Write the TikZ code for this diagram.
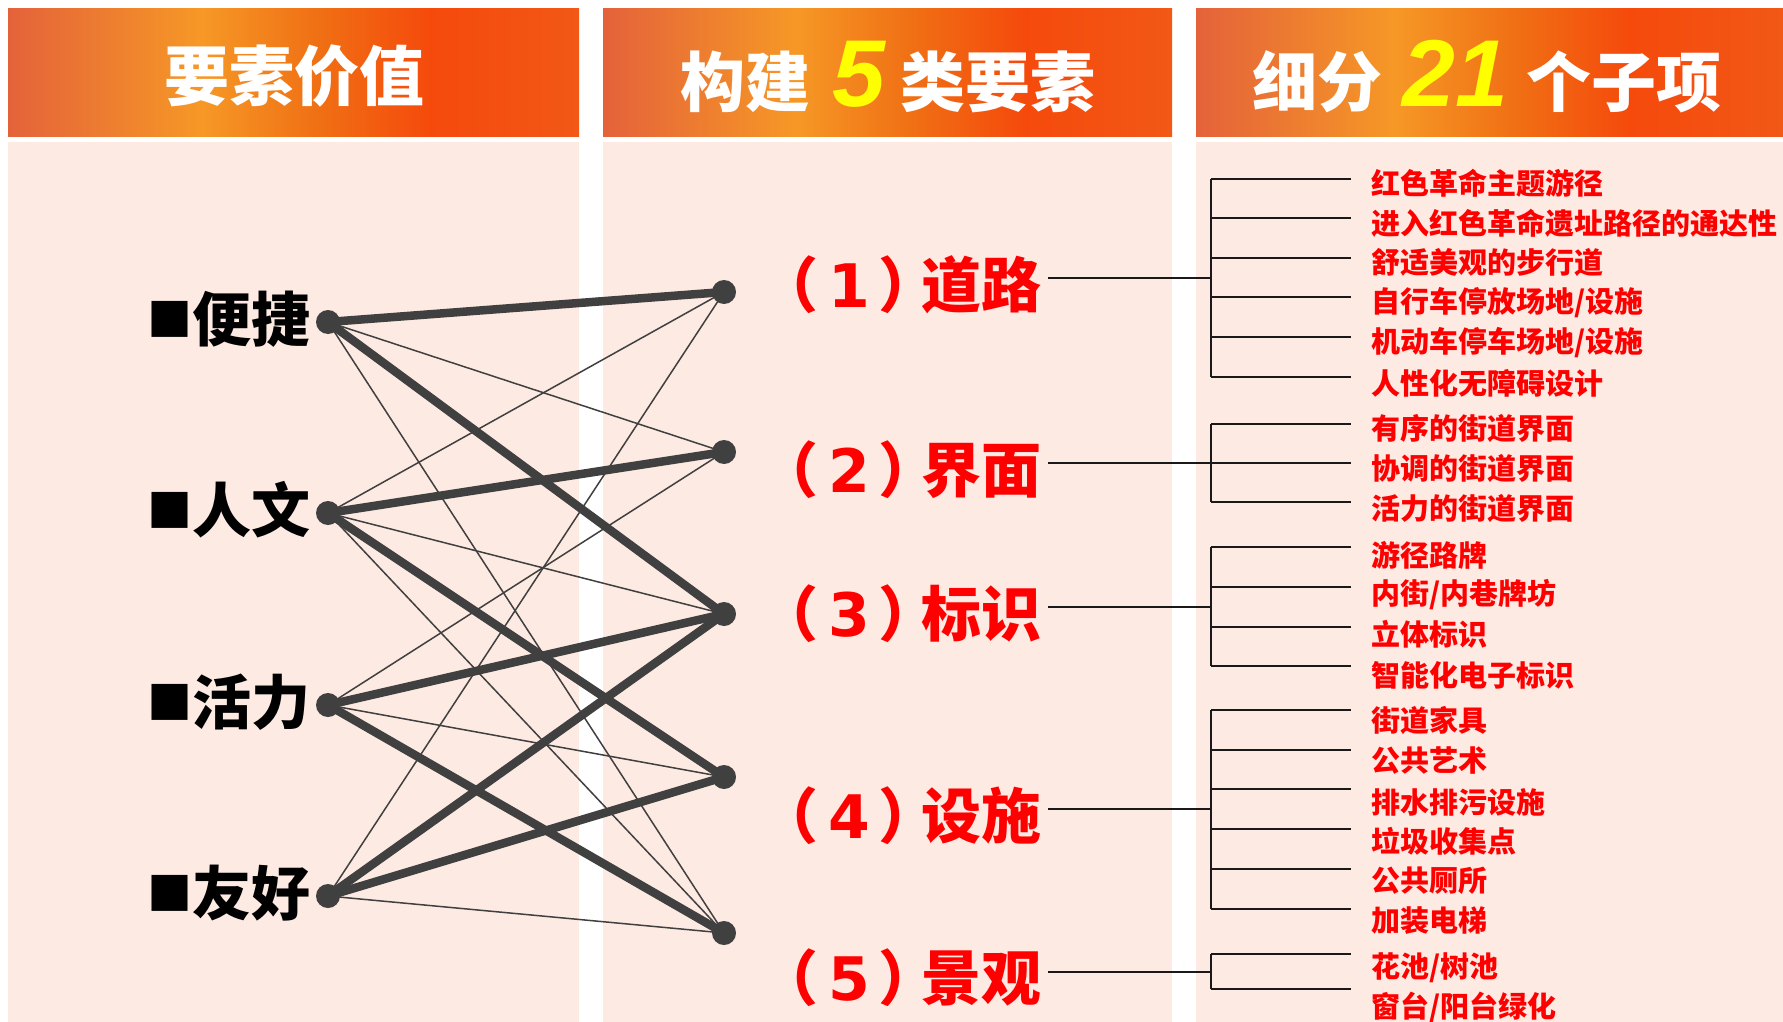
\documentclass[tikz,border=0pt]{standalone}
\usepackage{fontspec}
\setmainfont{Noto Sans CJK SC}
\newfontfamily\latinbi{Liberation Sans}
\newfontfamily\dejavu{DejaVu Sans}
\definecolor{pinkbg}{RGB}{253,234,227}
\definecolor{hcA}{RGB}{228,98,58}
\definecolor{hcB}{RGB}{246,152,38}
\definecolor{hcC}{RGB}{240,112,20}
\definecolor{hcD}{RGB}{245,74,12}
\definecolor{hcE}{RGB}{242,88,22}
\definecolor{edgegray}{RGB}{64,64,64}
\definecolor{tred}{RGB}{255,0,0}
\definecolor{yel}{RGB}{255,255,0}
\pgfdeclarehorizontalshading{hdrshade}{100bp}{color(0bp)=(hcA); color(25bp)=(hcA); color(42bp)=(hcB); color(52bp)=(hcC); color(62bp)=(hcD); color(75bp)=(hcE); color(100bp)=(hcE)}
\tikzset{
  hdrtxt/.style={inner sep=0pt, text=white, font=\bfseries\fontsize{65}{65}\selectfont},
  lefttxt/.style={inner sep=0pt, text=black, font=\bfseries\fontsize{59}{59}\selectfont},
  midtxt/.style={inner sep=0pt, text=tred, font=\bfseries\fontsize{60}{60}\selectfont},
  itemtxt/.style={inner sep=0pt, text=tred, font=\bfseries\fontsize{29}{29}\selectfont, anchor=west},
  dotnode/.style={circle, fill=edgegray, inner sep=0pt, minimum size=24pt},
  thickedge/.style={draw=edgegray, line width=8.5pt},
  thinedge/.style={draw=edgegray, line width=1.5pt},
  branch/.style={draw=black!90, line width=2pt},
  conn/.style={draw=black!90, line width=1.6pt},
}
\newcommand{\ynum}[1]{{\latinbi\bfseries\itshape\fontsize{95}{95}\selectfont\color{yel}#1}}
\newcommand{\dnum}[1]{{\dejavu\bfseries #1}}
\newcommand{\sqbul}{\raisebox{5pt}{\fontsize{45}{45}\selectfont ■}}
\begin{document}
\begin{tikzpicture}[x=1pt,y=-1pt]
\useasboundingbox (0,0) rectangle (1783,1022);
\fill[white] (0,0) rectangle (1783,1022);
% panels
\fill[pinkbg] (8,142) rectangle (579,1022);
\fill[pinkbg] (603,142) rectangle (1172,1022);
\fill[pinkbg] (1196,142) rectangle (1783,1022);
\shade[shading=hdrshade] (8,9) rectangle (579,137);
\shade[shading=hdrshade] (603,9) rectangle (1172,137);
\shade[shading=hdrshade] (1196,9) rectangle (1783,137);
% headers
\node[hdrtxt, anchor=base] (h1) at (294,101) {要素价值};
\node[hdrtxt, anchor=base] (h2) at (888,107) {构建\hspace{22pt}\ynum{5}\hspace{16pt}类要素};
\node[hdrtxt, anchor=base] (h3) at (1487,107) {细分\hspace{20pt}\ynum{21}\hspace{18pt}个子项};
% left labels
\node[lefttxt, anchor=east] (t1) at (311,319) {\sqbul 便捷};
\node[lefttxt, anchor=east] (t2) at (311,510) {\sqbul 人文};
\node[lefttxt, anchor=east] (t3) at (311,702) {\sqbul 活力};
\node[lefttxt, anchor=east] (t4) at (311,893) {\sqbul 友好};
% dots
\node[dotnode] (L1) at (328,322) {};
\node[dotnode] (L2) at (328,513) {};
\node[dotnode] (L3) at (328,705) {};
\node[dotnode] (L4) at (328,896) {};
\node[dotnode] (R1) at (724,292) {};
\node[dotnode] (R2) at (724,452) {};
\node[dotnode] (R3) at (724,614) {};
\node[dotnode] (R4) at (724,777) {};
\node[dotnode] (R5) at (724,933) {};
% thin edges
\foreach \a/\b in {L1/R2,L1/R5,L2/R1,L2/R3,L2/R5,L3/R2,L3/R4,L4/R1,L4/R5}
  \draw[thinedge] (\a.center) -- (\b.center);
% thick edges
\foreach \a/\b in {L1/R1,L1/R3,L2/R2,L2/R4,L3/R3,L3/R5,L4/R3,L4/R4}
  \draw[thickedge] (\a.center) -- (\b.center);
% middle labels
\node[midtxt, anchor=east] (m1) at (1042,285) {（\hspace{10pt}\dnum{1}\hspace{9pt}）\hspace{-17pt}道路};
\node[midtxt, anchor=east] (m2) at (1042,470) {（\hspace{10pt}\dnum{2}\hspace{9pt}）\hspace{-17pt}界面};
\node[midtxt, anchor=east] (m3) at (1042,614) {（\hspace{10pt}\dnum{3}\hspace{9pt}）\hspace{-17pt}标识};
\node[midtxt, anchor=east] (m4) at (1042,816) {（\hspace{10pt}\dnum{4}\hspace{9pt}）\hspace{-17pt}设施};
\node[midtxt, anchor=east] (m5) at (1042,978) {（\hspace{10pt}\dnum{5}\hspace{9pt}）\hspace{-17pt}景观};
% spine coordinates
\coordinate (s1) at (1211,278);
\coordinate (s2) at (1211,463);
\coordinate (s3) at (1211,607);
\coordinate (s4) at (1211,809);
\coordinate (s5) at (1211,972);
\draw[conn] (1048,278) -- (s1);
\draw[conn] (1048,463) -- (s2);
\draw[conn] (1048,607) -- (s3);
\draw[conn] (1048,809) -- (s4);
\draw[conn] (1048,972) -- (s5);
% spines
\draw[branch] (1211,179) -- (1211,377);
\draw[branch] (1211,424) -- (1211,502);
\draw[branch] (1211,547) -- (1211,666);
\draw[branch] (1211,710) -- (1211,909);
\draw[branch] (1211,954) -- (1211,989);
% branches
\foreach \y in {179,218,258,297,337,377,424,463,502,547,587,627,666,710,750,789,829,869,909,954,989}
  \draw[branch] (1211,\y) -- (1351,\y);
% items
\node[itemtxt] (i1) at (1371,183) {红色革命主题游径};
\node[itemtxt] (i2) at (1371,223) {进入红色革命遗址路径的通达性};
\node[itemtxt] (i3) at (1371,263) {舒适美观的步行道};
\node[itemtxt] (i4) at (1371,302.5) {自行车停放场地/设施};
\node[itemtxt] (i5) at (1371,343) {机动车停车场地/设施};
\node[itemtxt] (i6) at (1371,383) {人性化无障碍设计};
\node[itemtxt] (i7) at (1371,429) {有序的街道界面};
\node[itemtxt] (i8) at (1371,468.5) {协调的街道界面};
\node[itemtxt] (i9) at (1371,509) {活力的街道界面};
\node[itemtxt] (i10) at (1371,555) {游径路牌};
\node[itemtxt] (i11) at (1371,595) {内街/内巷牌坊};
\node[itemtxt] (i12) at (1371,634.5) {立体标识};
\node[itemtxt] (i13) at (1371,675) {智能化电子标识};
\node[itemtxt] (i14) at (1371,720) {街道家具};
\node[itemtxt] (i15) at (1371,761) {公共艺术};
\node[itemtxt] (i16) at (1371,802) {排水排污设施};
\node[itemtxt] (i17) at (1371,841.5) {垃圾收集点};
\node[itemtxt] (i18) at (1371,881) {公共厕所};
\node[itemtxt] (i19) at (1371,921) {加装电梯};
\node[itemtxt] (i20) at (1371,968) {花池/树池};
\node[itemtxt] (i21) at (1371,1007.5) {窗台/阳台绿化};
\end{tikzpicture}
\end{document}
